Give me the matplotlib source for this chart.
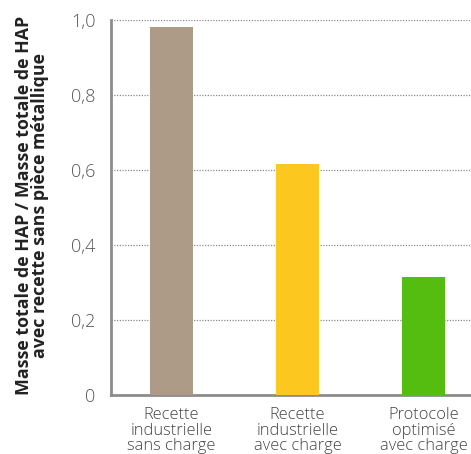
import matplotlib.pyplot as plt
from matplotlib.ticker import FuncFormatter

plt.rcParams['font.family'] = ['Open Sans', 'DejaVu Sans']

# Ratio of total PAH mass vs. recipe without metal part
categories = ['Recette\nindustrielle\nsans charge',
              'Recette\nindustrielle\navec charge',
              'Protocole\noptimisé\navec charge']
values = [0.98, 0.615, 0.315]
colors = ['#ad9a87', '#fcc71e', '#54bd0f']
yticks = [0, 0.2, 0.4, 0.6, 0.8, 1.0]

fig = plt.figure(figsize=(4.71, 4.54), dpi=100)
ax = fig.add_axes([0.2357, 0.130, 0.7643, 0.826])

x = list(range(len(categories)))
ax.bar(x, values, width=0.34, color=colors, zorder=3)

ax.set_xlim(-0.48, 2.377)
ax.set_ylim(0, 1.0)
ax.set_yticks(yticks)
ax.yaxis.set_major_formatter(FuncFormatter(
    lambda v, p: '0' if v == 0 else f'{v:.1f}'.replace('.', ',')))
ax.grid(axis='y', linestyle=(0, (1, 1.2)), color='#8a8a8a', linewidth=0.9, zorder=0)
ax.set_xticks(x)
ax.set_xticklabels(categories, linespacing=0.95, fontweight='light')
for lbl in ax.get_yticklabels():
    lbl.set_fontweight('light')

for side in ['top', 'right']:
    ax.spines[side].set_visible(False)
for side in ['left', 'bottom']:
    ax.spines[side].set_color('#8c8c8c')
    ax.spines[side].set_linewidth(2)

ax.tick_params(axis='y', length=0, pad=11, labelsize=13, labelcolor='#555555')
ax.tick_params(axis='x', length=0, pad=9, labelsize=11.8, labelcolor='#444444')

fig.text(0.068, 0.548, 'Masse totale de HAP / Masse totale de HAP\navec recette sans pièce métallique',
         rotation=90, ha='center', va='center', fontsize=12.8, fontweight='bold',
         color='#222222', linespacing=0.8)

fig.savefig('out.png', dpi=100)
